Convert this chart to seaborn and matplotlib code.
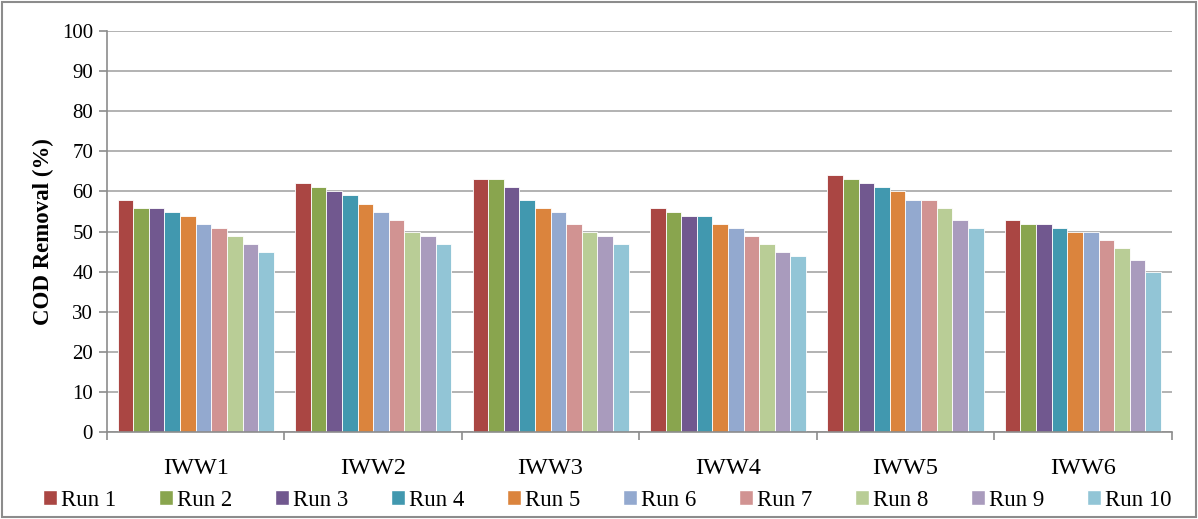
import matplotlib
matplotlib.use("Agg")
import matplotlib.pyplot as plt
import seaborn as sns
import pandas as pd
from matplotlib.patches import Rectangle, Patch

categories = ["IWW1", "IWW2", "IWW3", "IWW4", "IWW5", "IWW6"]
runs = ["Run 1", "Run 2", "Run 3", "Run 4", "Run 5", "Run 6", "Run 7", "Run 8", "Run 9", "Run 10"]
iww1 = [58, 56, 56, 55, 54, 52, 51, 49, 47, 45]
iww2 = [62, 61, 60, 59, 57, 55, 53, 50, 49, 47]
iww3 = [63, 63, 61, 58, 56, 55, 52, 50, 49, 47]
iww4 = [56, 55, 54, 54, 52, 51, 49, 47, 45, 44]
iww5 = [64, 63, 62, 61, 60, 58, 58, 56, 53, 51]
iww6 = [53, 52, 52, 51, 50, 50, 48, 46, 43, 40]
colors = ["#AA4643", "#89A54E", "#71588F", "#4198AF", "#DB843D",
          "#93A9CF", "#D19392", "#B9CD96", "#A99BBD", "#92C5D6"]

rows = []
for cat, vals in zip(categories, [iww1, iww2, iww3, iww4, iww5, iww6]):
    for r, v in zip(runs, vals):
        rows.append({"cat": cat, "run": r, "val": v})
df = pd.DataFrame(rows)

sns.set_theme(style="white")
plt.rcParams['font.family'] = ['Liberation Serif', 'DejaVu Serif']
plt.rcParams['text.color'] = 'black'
plt.rcParams['xtick.color'] = 'black'
plt.rcParams['ytick.color'] = 'black'
plt.rcParams['axes.labelcolor'] = 'black'

fig = plt.figure(figsize=(11.98, 5.19), dpi=100)
ax = fig.add_axes([0.0893, 0.1676, 0.8887, 0.7724])

sns.barplot(data=df, x="cat", y="val", hue="run", hue_order=runs, order=categories,
            palette=colors, width=0.88, ax=ax, legend=False, edgecolor="white",
            linewidth=0.6, saturation=1)

ax.set_ylim(0, 100)
ax.set_xlim(-0.5, 5.5)
ax.set_yticks(range(0, 101, 10))
ax.yaxis.grid(True, color="#A6A6A6", linewidth=1.2)
ax.set_axisbelow(True)
for s in ["top", "right"]:
    ax.spines[s].set_visible(False)
for s in ["left", "bottom"]:
    ax.spines[s].set_color("#8C8C8C")
    ax.spines[s].set_linewidth(1.2)

ax.set_xticks([i - 0.5 for i in range(7)], minor=True)
ax.tick_params(axis="x", which="minor", length=6, color="#8C8C8C", width=1.2, bottom=True)
ax.tick_params(axis="x", which="major", length=0, pad=19, labelsize=17.5)
ax.tick_params(axis="y", which="major", length=6, color="#8C8C8C", width=1.2, left=True,
               labelsize=15, pad=4)
ax.set_xlabel("")
ax.set_ylabel("COD Removal (%)", fontsize=16.5, fontweight="bold", labelpad=6)

handles = [Patch(facecolor=c, edgecolor="white", label=r) for c, r in zip(colors, runs)]
fig.legend(handles=handles, loc="lower center", bbox_to_anchor=(0.507, -0.024), ncol=10,
           frameon=False, fontsize=16.5, handlelength=0.6, handleheight=0.6,
           handletextpad=0.2, columnspacing=1.85)

fig.patches.append(Rectangle((0.002, 0.004), 0.996, 0.992, transform=fig.transFigure,
                             fill=False, edgecolor="#8C8C8C", linewidth=1.5))

fig.savefig("out.png", dpi=100)
